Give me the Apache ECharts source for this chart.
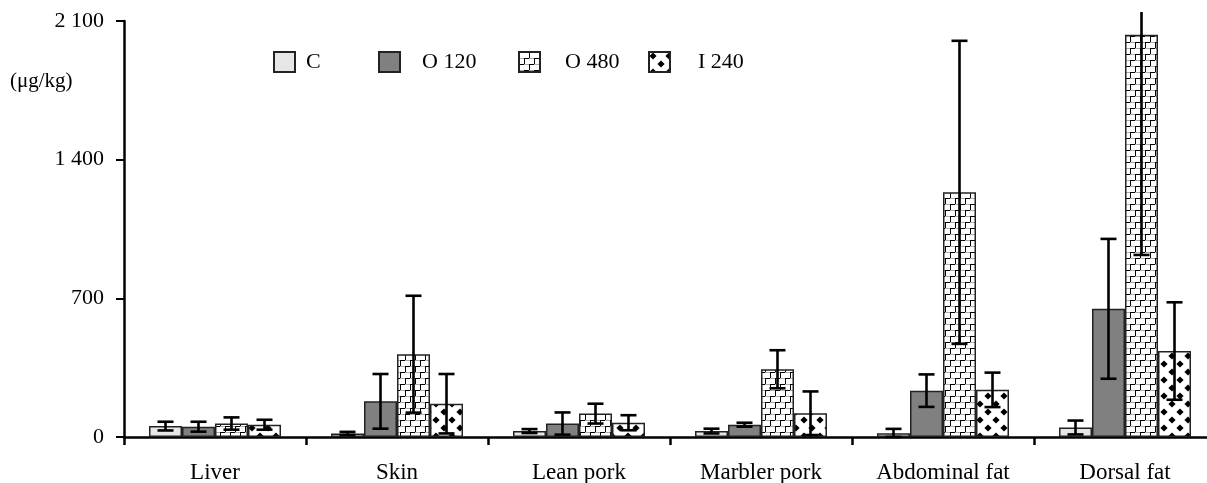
<!DOCTYPE html>
<html>
<head>
<meta charset="utf-8">
<script src="https://cdn.jsdelivr.net/npm/echarts@6/dist/echarts.min.js"></script>
<style>
html,body{margin:0;padding:0;background:#fff;}
#chart{width:1207px;height:483px;}
</style>
</head>
<body>
<div id="chart"></div>
<script>
// ---- data ----
var categories = ['Liver', 'Skin', 'Lean pork', 'Marbler pork', 'Abdominal fat', 'Dorsal fat'];
var seriesNames = ['C', 'O 120', 'O 480', 'I 240'];
var valC    = [55, 18, 30, 30, 19, 48];
var valO120 = [52, 180, 68, 62, 234, 647];
var valO480 = [68, 418, 118, 342, 1235, 2031];
var valI240 = [62, 168, 72, 120, 238, 434];
var errC    = [22, 8, 10, 12, 22, 35];
var errO120 = [25, 138, 56, 10, 82, 353];
var errO480 = [31, 295, 50, 96, 765, 1112];
var errI240 = [25, 150, 38, 110, 87, 246];
var yTicks = [0, 700, 1400, 2100];

// ---- patterns ----
function brickPattern() {
  var c = document.createElement('canvas');
  c.width = 10; c.height = 12;
  var g = c.getContext('2d');
  g.fillStyle = '#fff'; g.fillRect(0, 0, 10, 12);
  g.fillStyle = '#aaa';
  g.fillRect(0, 0, 10, 1);
  g.fillRect(0, 6, 10, 1);
  g.fillStyle = '#000';
  g.fillRect(0, 0, 1, 6);
  g.fillRect(5, 6, 1, 6);
  g.fillRect(1, 0, 4, 1);
  g.fillRect(6, 6, 4, 1);
  return c;
}
function diamondPattern() {
  var c = document.createElement('canvas');
  c.width = 16; c.height = 16;
  var g = c.getContext('2d');
  g.fillStyle = '#fff'; g.fillRect(0, 0, 16, 16);
  g.fillStyle = '#000';
  function dia(cx, cy, r) {
    g.beginPath();
    g.moveTo(cx, cy - r); g.lineTo(cx + r, cy); g.lineTo(cx, cy + r); g.lineTo(cx - r, cy); g.closePath();
    g.fill();
  }
  dia(4, 4, 3.6);
  dia(12, 12, 3.6);
  return c;
}

var fills = [
  '#e6e6e6',
  '#808080',
  { image: brickPattern(), repeat: 'repeat' },
  { image: diamondPattern(), repeat: 'repeat' }
];
var values = [valC, valO120, valO480, valI240];
var errors = [errC, errO120, errO480, errI240];
var BAR_W = 33;
var FONT = '"Liberation Serif", "Times New Roman", serif';

var chart = echarts.init(document.getElementById('chart'), null, { renderer: 'canvas' });

var series = [];
seriesNames.forEach(function (name, k) {
  series.push({
    name: name,
    type: 'bar',
    data: values[k],
    barWidth: BAR_W,
    barGap: '0%',
    itemStyle: { color: fills[k], borderColor: '#222', borderWidth: 1.5 },
    emphasis: { disabled: true },
    z: 2
  });
});
seriesNames.forEach(function (name, k) {
  var d = values[k].map(function (v, i) { return [i, v, errors[k][i]]; });
  series.push({
    type: 'custom',
    name: name + ' err',
    data: d,
    encode: { x: 0, y: 1 },
    clip: false,
    z: 5,
    silent: true,
    renderItem: function (params, api) {
      var i = api.value(0), m = api.value(1), e = api.value(2);
      var c = api.coord([i, m]);
      var x = c[0] + (k - 1.5) * BAR_W;
      var topLimit = api.coord([i, 2100])[1] - 9;
      var rawHi = api.coord([i, m + e])[1];
      var yHi = Math.max(rawHi, topLimit);
      var yLo = api.coord([i, Math.max(m - e, 0)])[1];
      var hw = 8;
      var st = { stroke: '#000', lineWidth: 2.6, fill: null };
      var kids = [
        { type: 'line', shape: { x1: x, y1: yHi, x2: x, y2: yLo }, style: st }
      ];
      if (rawHi >= topLimit) {
        kids.push({ type: 'line', shape: { x1: x - hw, y1: yHi, x2: x + hw, y2: yHi }, style: st });
      }
      kids.push({ type: 'line', shape: { x1: x - hw, y1: yLo, x2: x + hw, y2: yLo }, style: st });
      return { type: 'group', children: kids };
    }
  });
});

function legendAt(name, left, pad) {
  return {
    data: [name],
    left: left,
    top: 46,
    icon: 'rect',
    itemWidth: 21,
    itemHeight: 20,
    selectedMode: false,
    textStyle: { fontFamily: FONT, fontSize: 22, color: '#000', padding: [0, 0, 0, pad] }
  };
}

var option = {
  animation: false,
  backgroundColor: '#fff',
  grid: { left: 124, right: -9, top: 21, bottom: 46, containLabel: false, outerBoundsMode: 'none' },
  legend: [
    legendAt('C', 268, 6),
    legendAt('O 120', 373, 17),
    legendAt('O 480', 513, 20),
    legendAt('I 240', 643, 23)
  ],
  graphic: [{
    type: 'text', left: 10, top: 71,
    style: { text: '(μg/kg)', font: '21px ' + FONT, fill: '#000' }
  }],
  xAxis: {
    type: 'category',
    data: categories,
    axisLine: { lineStyle: { color: '#000', width: 2.5 } },
    axisTick: { show: true, length: 8, lineStyle: { color: '#000', width: 2.5 } },
    axisLabel: { color: '#000', fontFamily: FONT, fontSize: 23, margin: 24 },
    splitLine: { show: false }
  },
  yAxis: {
    type: 'value',
    min: yTicks[0],
    max: yTicks[yTicks.length - 1],
    interval: yTicks[1] - yTicks[0],
    axisLine: { show: true, lineStyle: { color: '#000', width: 2.5 } },
    axisTick: { show: true, length: 8, lineStyle: { color: '#000', width: 2 } },
    splitLine: { show: false },
    axisLabel: {
      color: '#000', fontFamily: FONT, fontSize: 22, margin: 20,
      formatter: function (v) {
        if (v >= 1000) {
          var r = String(v % 1000);
          while (r.length < 3) r = '0' + r;
          return Math.floor(v / 1000) + ' ' + r;
        }
        return String(v);
      }
    }
  },
  series: series
};
chart.setOption(option);
</script>
</body>
</html>
